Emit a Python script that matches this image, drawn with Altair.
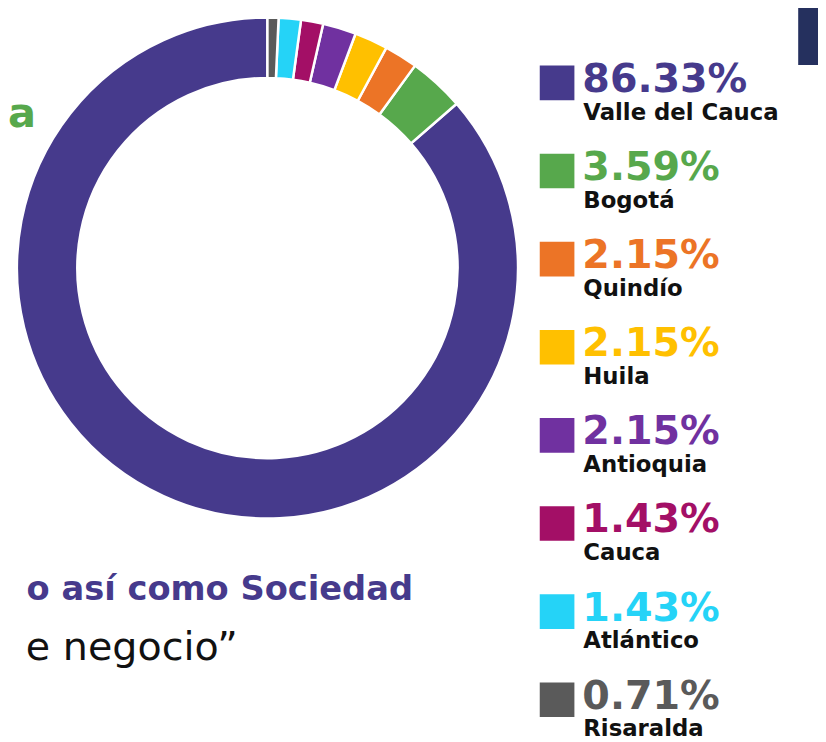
import altair as alt
import pandas as pd

regions = ["Valle del Cauca", "Bogotá", "Quindío", "Huila", "Antioquia", "Cauca", "Atlántico", "Risaralda"]
shares = [86.33, 3.59, 2.15, 2.15, 2.15, 1.43, 1.43, 0.71]
labels = ["86.33%", "3.59%", "2.15%", "2.15%", "2.15%", "1.43%", "1.43%", "0.71%"]
colors = ["#463a8c", "#57a84c", "#ec7426", "#ffc000", "#7031a0", "#a30f66", "#25d3f7", "#5a5a5a"]

df = pd.DataFrame({
    "region": regions,
    "share": shares,
    "label": labels,
    "idx": list(range(len(regions))),
})

color_enc = alt.Color("region:N", scale=alt.Scale(domain=regions, range=colors), legend=None)

base = alt.Chart(df)

donut = base.mark_arc(radius=253, radius2=192, stroke="white", strokeWidth=2.5).encode(
    theta=alt.Theta("share:Q", stack=True),
    order=alt.Order("idx:Q", sort="descending"),
    color=color_enc,
    x=alt.value(262),
    y=alt.value(259),
)

yenc = alt.Y("idx:Q", scale=alt.Scale(domain=[0, 7], range=[72, 695]), axis=None)

squares = base.mark_square(size=1225, opacity=1).encode(
    x=alt.value(554.5), y=yenc, color=color_enc
)

pct = base.mark_text(align="left", baseline="alphabetic", dy=9, font="DejaVu Sans",
                     fontWeight="bold", fontSize=40).encode(
    x=alt.value(580), y=yenc, text="label:N", color=color_enc
)

names = base.mark_text(align="left", baseline="alphabetic", dy=37, font="DejaVu Sans",
                       fontWeight="bold", fontSize=23, color="#111111").encode(
    x=alt.value(581), y=yenc, text="region:N"
)

ann = pd.DataFrame({"t": ["a"]})
green_a = alt.Chart(ann).mark_text(align="left", baseline="alphabetic", font="DejaVu Sans",
                                  fontWeight="bold", fontSize=42, color="#57a84c").encode(
    x=alt.value(0), y=alt.value(117), text="t:N"
)

line1 = alt.Chart(pd.DataFrame({"t": ["o así como Sociedad"]})).mark_text(
    align="right", baseline="alphabetic", font="DejaVu Sans", fontWeight="bold",
    fontSize=34, color="#463a8c").encode(x=alt.value(409), y=alt.value(594), text="t:N")

line2 = alt.Chart(pd.DataFrame({"t": ["e negocio\u201d"]})).mark_text(
    align="right", baseline="alphabetic", font="DejaVu Sans", fontWeight="normal",
    fontSize=40, color="#111111").encode(x=alt.value(232), y=alt.value(655), text="t:N")

navy = alt.Chart(pd.DataFrame({"t": ["n"]})).mark_rect(color="#25305e").encode(
    x=alt.value(798), x2=alt.value(820), y=alt.value(-10), y2=alt.value(54)
)

chart = alt.layer(donut, squares, pct, names, green_a, line1, line2, navy).properties(
    width=818, height=734, padding=0, autosize=alt.AutoSizeParams(type="none")
).configure_view(strokeWidth=0)

chart.save("out.html", embed_options={"renderer": "svg", "actions": False})
